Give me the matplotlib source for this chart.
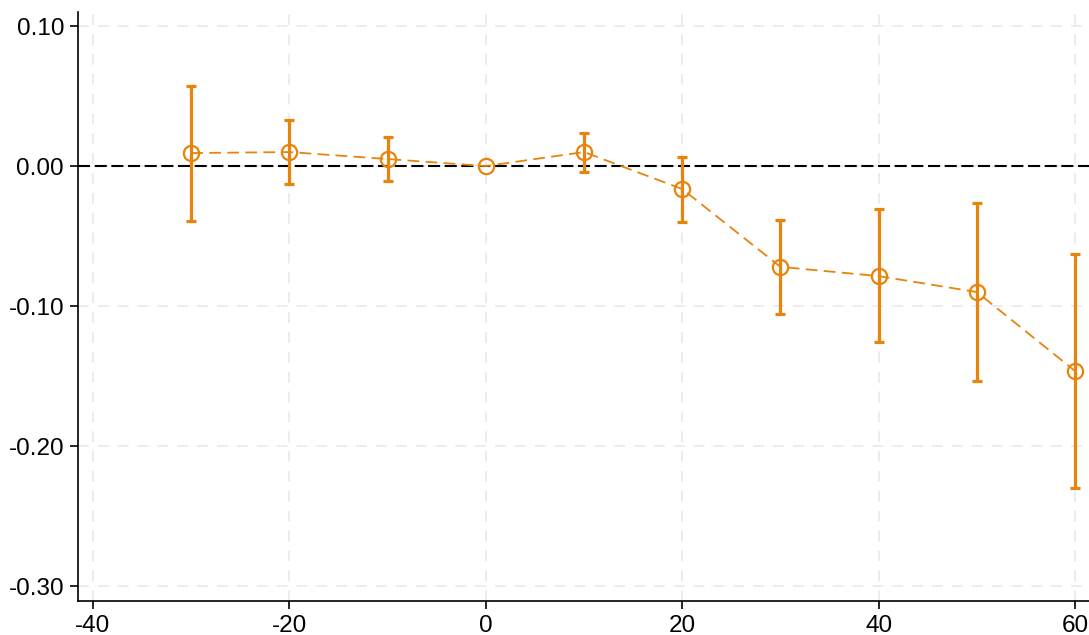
import numpy as np
import matplotlib
matplotlib.use('Agg')
import matplotlib.pyplot as plt

plt.rcParams['font.family'] = ['Liberation Sans', 'DejaVu Sans']
plt.rcParams['axes.unicode_minus'] = False

# event-time coefficients with confidence bounds
periods = [-30, -20, -10, 0, 10, 20, 30, 40, 50, 60]
coef = [0.0093, 0.0100, 0.0050, 0.0, 0.0100, -0.0164, -0.0720, -0.0786, -0.0900, -0.1464]
upper = [0.0570, 0.0330, 0.0210, 0.0, 0.0236, 0.0064, -0.0386, -0.0307, -0.0264, -0.0629]
lower = [-0.0390, -0.0130, -0.0110, 0.0, -0.0040, -0.0400, -0.1057, -0.1260, -0.1536, -0.2300]

orange = '#E8830B'

fig = plt.figure(figsize=(10.89, 6.35), dpi=100)
ax = fig.add_axes([0.0716, 0.0535, 0.9284, 0.9275])

x = np.array(periods)
c = np.array(coef)
lo = np.array(lower)
hi = np.array(upper)
has_ci = x != 0

ax.axhline(0, color='black', lw=1.5, ls=(0, (5.8, 2.2)), zorder=2)

ax.errorbar(x[has_ci], c[has_ci], yerr=[c[has_ci] - lo[has_ci], hi[has_ci] - c[has_ci]],
            fmt='none', ecolor=orange, elinewidth=2.3, capsize=3.5, capthick=2.3, zorder=3)
ax.plot(x, c, color=orange, lw=1.3, ls=(0, (6.5, 3.5)), marker='o', markersize=11,
        markerfacecolor='none', markeredgecolor=orange, markeredgewidth=1.6, zorder=4)

ax.set_xlim(-41.53, 61.42)
ax.set_ylim(-0.3107, 0.11)
ax.set_xticks([-40, -20, 0, 20, 40, 60])
ax.set_yticks([0.10, 0.00, -0.10, -0.20, -0.30])
ax.set_yticklabels(['0.10', '0.00', '-0.10', '-0.20', '-0.30'])
ax.grid(True, color='#ebebeb', lw=1.3, ls=(0, (6, 5)), zorder=0)
ax.tick_params(labelsize=17.5, length=6, width=1.2, direction='out', pad=4)

for side in ['top', 'right']:
    ax.spines[side].set_visible(False)
for side in ['left', 'bottom']:
    ax.spines[side].set_linewidth(1.2)

fig.savefig('out.png', dpi=100)
